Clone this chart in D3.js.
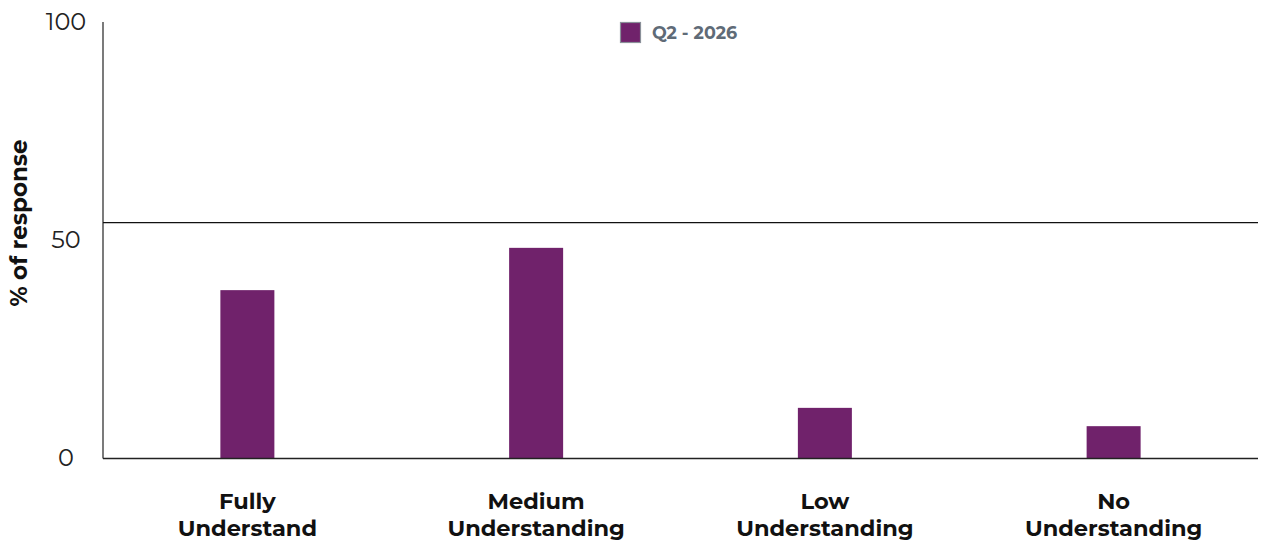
<!DOCTYPE html>
<html><head><meta charset="utf-8">
<script src="https://cdn.jsdelivr.net/npm/d3@7"></script>
<style>body{margin:0;background:#fff}svg{display:block}</style>
</head><body>
<svg id="c" width="1266" height="540"></svg>
<script>
const categories = [["Fully","Understand"],["Medium","Understanding"],["Low","Understanding"],["No","Understanding"]];
const values = [38.5, 48.2, 11.5, 7.3];
const yTicks = [0, 50, 100];
const refLine = 54;
const seriesName = "Q2 - 2026";
const barColor = "#70226b";
const font = "Montserrat, 'DejaVu Sans', sans-serif";

const svg = d3.select("#c");
const m = {l:103, r:1258, t:22, b:458};
const x = d3.scaleBand().domain(d3.range(categories.length)).range([m.l, m.r]).padding(0);
const y = d3.scaleLinear().domain([0,100]).range([m.b, m.t]);
const bw = x.bandwidth()*0.187;

// bars
svg.selectAll("rect.bar").data(values).join("rect").attr("class","bar")
  .attr("x",(d,i)=>x(i)+x.bandwidth()/2-bw/2).attr("width",bw)
  .attr("y",d=>y(d)).attr("height",d=>y(0)-y(d)).attr("fill",barColor);

// axes lines
svg.append("line").attr("x1",m.l).attr("x2",m.l).attr("y1",m.t).attr("y2",m.b+0.5).attr("stroke","#333").attr("stroke-width",1.3);
svg.append("line").attr("x1",m.l).attr("x2",m.r).attr("y1",y(0)+0.5).attr("y2",y(0)+0.5).attr("stroke","#222").attr("stroke-width",1.5);
svg.append("line").attr("x1",m.l).attr("x2",m.r).attr("y1",y(refLine)).attr("y2",y(refLine)).attr("stroke","#111").attr("stroke-width",1.3);

// y ticks
svg.selectAll("text.yt").data(yTicks).join("text").attr("class","yt")
  .attr("x",66).attr("y",d=>y(d)).attr("dy","0.35em").attr("text-anchor","middle")
  .attr("font-family",font).attr("font-size",24).attr("fill","#222").text(d=>d);

// y label
svg.append("text").attr("transform","translate(27,223) rotate(-90)").attr("text-anchor","middle")
  .attr("font-family",font).attr("font-weight","bold").attr("font-size",23).attr("fill","#111").text("% of response");

// x labels
const xl = svg.selectAll("text.xl").data(categories).join("text").attr("class","xl")
  .attr("text-anchor","middle").attr("font-family",font).attr("font-weight","bold").attr("font-size",22.5).attr("fill","#111");
xl.selectAll("tspan").data((d,i)=>d.map(t=>({t,i}))).join("tspan")
  .attr("x",d=>x(d.i)+x.bandwidth()/2).attr("y",(d,j)=>509+j*27).text(d=>d.t);

// legend
svg.append("rect").attr("x",620.5).attr("y",22.5).attr("width",20).attr("height",20).attr("fill",barColor).attr("stroke","#8a9099").attr("stroke-width",1.2);
svg.append("text").attr("x",652).attr("y",39).attr("font-family",font).attr("font-weight","bold").attr("font-size",17.5).attr("fill","#5f6b77").text(seriesName);
</script>
</body></html>
